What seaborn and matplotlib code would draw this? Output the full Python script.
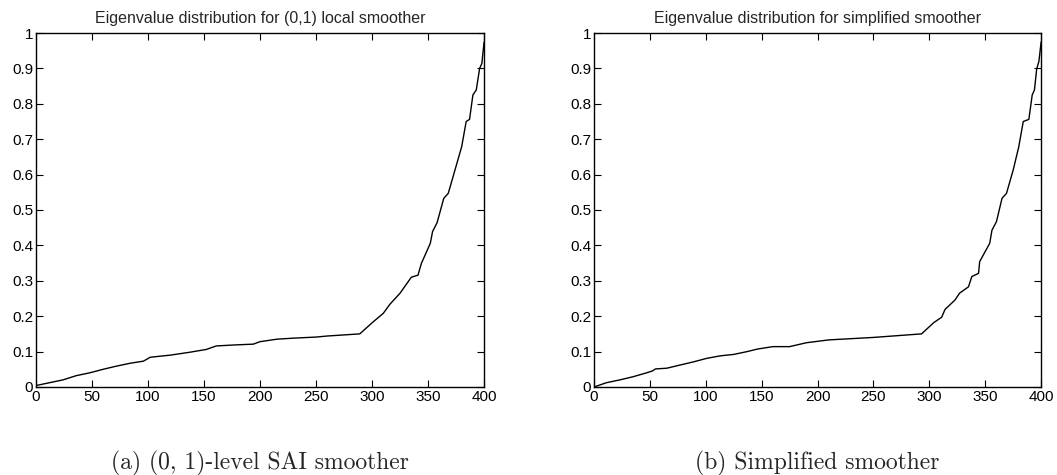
import matplotlib
matplotlib.use("Agg")
import matplotlib.pyplot as plt
import pandas as pd
import seaborn as sns

# eigenvalue curves (index, eigenvalue)
local_x = [0, 12, 24, 36, 48, 60, 72, 84, 96, 102, 120, 137, 152, 161, 179, 194, 200, 215, 230,
           250, 260, 289, 301, 310, 316, 325, 335, 341, 344, 352, 354, 358, 364, 368, 374, 380,
           384, 387, 390, 393, 396, 398, 400]
local_y = [0.004, 0.012, 0.020, 0.032, 0.040, 0.050, 0.059, 0.067, 0.073, 0.084, 0.090, 0.098,
           0.106, 0.116, 0.119, 0.121, 0.128, 0.135, 0.138, 0.141, 0.144, 0.150, 0.184, 0.208,
           0.234, 0.265, 0.310, 0.316, 0.349, 0.406, 0.439, 0.464, 0.533, 0.547, 0.613, 0.679,
           0.750, 0.756, 0.825, 0.839, 0.900, 0.914, 0.975]

simple_x = [0, 11, 23, 35, 47, 52, 55, 65, 77, 89, 101, 113, 125, 137, 146, 160, 175, 190, 210,
            250, 293, 304, 311, 314, 323, 327, 335, 338, 344, 345, 354, 356, 360, 365, 369, 375,
            380, 384, 389, 392, 394, 396, 398, 400]
simple_y = [0.0, 0.012, 0.020, 0.029, 0.040, 0.045, 0.051, 0.053, 0.062, 0.071, 0.081, 0.088,
            0.092, 0.100, 0.107, 0.114, 0.114, 0.125, 0.133, 0.140, 0.150, 0.182, 0.197, 0.219,
            0.246, 0.265, 0.283, 0.312, 0.321, 0.354, 0.406, 0.443, 0.467, 0.533, 0.547, 0.613,
            0.679, 0.750, 0.756, 0.825, 0.839, 0.898, 0.920, 0.975]

titles = ["Eigenvalue distribution for (0,1) local smoother",
          "Eigenvalue distribution for simplified smoother"]
captions = ["(a) (0, 1)-level SAI smoother", "(b) Simplified smoother"]
x_ticks = [0, 50, 100, 150, 200, 250, 300, 350, 400]
y_ticks = [0, 0.1, 0.2, 0.3, 0.4, 0.5, 0.6, 0.7, 0.8, 0.9, 1]
y_labels = ["0", "0.1", "0.2", "0.3", "0.4", "0.5", "0.6", "0.7", "0.8", "0.9", "1"]

sns.set_theme(style="ticks")
plt.rcParams["font.family"] = ["Liberation Sans", "DejaVu Sans"]

fig = plt.figure(figsize=(10.57, 4.75), dpi=100)
boxes = [[0.034, 0.1853, 0.424, 0.7452], [0.562, 0.1853, 0.423, 0.7452]]
series = [(local_x, local_y), (simple_x, simple_y)]

for box, (xs, ys), title, caption in zip(boxes, series, titles, captions):
    ax = fig.add_axes(box)
    df = pd.DataFrame({"index": xs, "eigenvalue": ys})
    sns.lineplot(data=df, x="index", y="eigenvalue", color="black", linewidth=1.0,
                 estimator=None, ax=ax)
    ax.set_xlim(0, 400)
    ax.set_ylim(0, 1)
    ax.set_xticks(x_ticks)
    ax.set_xticklabels([str(t) for t in x_ticks])
    ax.set_yticks(y_ticks)
    ax.set_yticklabels(y_labels)
    ax.set_xlabel("")
    ax.set_ylabel("")
    ax.tick_params(direction="in", length=5, width=0.8, top=True, right=True,
                   labelsize=11, colors="black", pad=2)
    for sp in ax.spines.values():
        sp.set_visible(True)
        sp.set_color("black")
        sp.set_linewidth(1.0)
    ax.set_title(title, fontsize=11.5, pad=7)
    ax.text(0.5, -0.215, caption, transform=ax.transAxes, ha="center", va="center",
            fontsize=17, family="cmr10")

fig.savefig("out.png", dpi=100)
